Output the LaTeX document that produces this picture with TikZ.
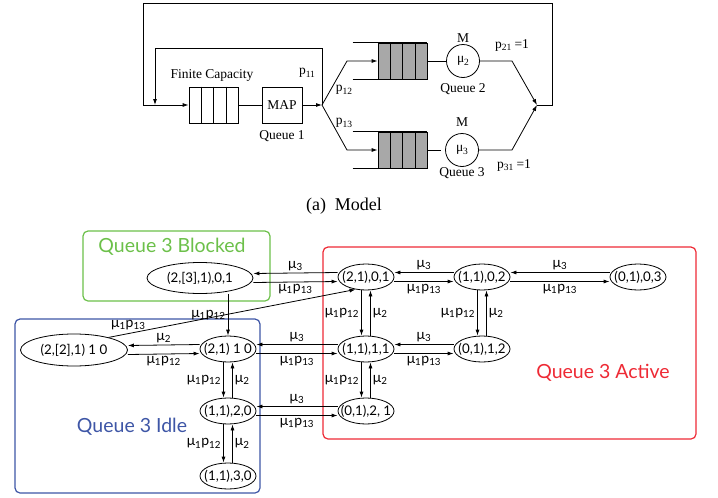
\documentclass[tikz,border=0pt]{standalone}
\usepackage{fontspec}
\setmainfont{Liberation Serif}
\newfontfamily\lbl{Lato}
\usetikzlibrary{arrows.meta,shapes.geometric,calc}
\definecolor{grpgreen}{HTML}{6CC04A}
\definecolor{grpblue}{HTML}{3E56A6}
\definecolor{grpred}{HTML}{EE2A35}
\definecolor{qgray}{HTML}{A8A8A8}
\newcommand\ssub[1]{\raisebox{-0.45ex}{\fontsize{9.5}{10}\selectfont #1}}
\newcommand\mus[1]{μ\textsubscript{#1}}
\newcommand\mup[1]{μ\textsubscript{1}p\textsubscript{#1}}
\newcommand\sn[1]{\makebox[0pt]{#1}}
\tikzset{
  st/.style={ellipse,draw,inner sep=0pt,minimum width=56pt,minimum height=26pt,font=\lbl\fontsize{13.3}{15}\selectfont},
  lab/.style={font=\lbl\fontsize{14}{15}\selectfont,inner sep=0pt},
  arr/.style={-{Latex[length=6pt,width=4pt]}},
  toptxt/.style={font=\fontsize{13.5}{15}\selectfont,inner sep=0pt},
  qbox/.style={draw,rectangle,minimum width=49pt,minimum height=36pt,inner sep=0pt},
  srv/.style={draw,circle,minimum size=33pt,inner sep=0pt,font=\fontsize{13.5}{15}\selectfont},
  grp/.style={draw,rounded corners=5pt,line width=1.2pt},
  grplab/.style={font=\lbl\fontsize{19.5}{21}\selectfont,inner sep=0pt},
}
\newcommand\hpair[4]{%
  \draw[arr] ([yshift=4.5pt]#2.west) -- node[lab,midway,above=2pt]{#3} ([yshift=4.5pt]#1.east);
  \draw[arr] ([yshift=-4.5pt]#1.east) -- node[lab,midway,below=2pt]{#4} ([yshift=-4.5pt]#2.west);}
\newcommand\vpair[4]{%
  \draw[arr] ([xshift=-4.5pt]#1.south) -- node[lab,midway,left=2pt]{#3} ([xshift=-4.5pt]#2.north);
  \draw[arr] ([xshift=4.5pt]#2.north) -- node[lab,midway,right=2pt]{#4} ([xshift=4.5pt]#1.south);}
\begin{document}
\begin{tikzpicture}[x=1pt,y=-1pt,line width=0.8pt]
\useasboundingbox (0,0) rectangle (718,498);
% ---------- top model ----------
\node[qbox] (q1) at (213.5,105) {};
\foreach \f in {0.25,0.5,0.75}
  \draw ($(q1.north west)!\f!(q1.north east)$) -- ($(q1.south west)!\f!(q1.south east)$);
\node[qbox,minimum width=40pt,font=\fontsize{13.5}{15}\selectfont] (map) at (282,105) {MAP};
\coordinate (J) at (322,105);
\coordinate (M) at (537,105);
\node[qbox,fill=qgray] (q2) at (402.5,61) {};
\node[qbox,fill=qgray] (q3) at (402.5,150) {};
\foreach \q in {q2,q3}{
  \foreach \f in {0.25,0.5,0.75}
    \draw ($(\q.north west)!\f!(\q.north east)$) -- ($(\q.south west)!\f!(\q.south east)$);
  \draw ([xshift=-25pt]\q.north west) -- (\q.north east);
  \draw ([xshift=-25pt]\q.south west) -- (\q.south east);
}
\node[srv] (c2) at (463,61) {μ\ssub{2}};
\node[srv] (c3) at (462,150) {μ\ssub{3}};
\draw (q1.east) -- (map.west);
\draw[arr] (map.east) -- (J);
\draw[arr] (J) -- (347,61) -- (q2.west);
\draw[arr] (J) -- (347,150) -- (q3.west);
\draw (q2.east) -- (c2.west);
\draw (q3.east) -- ([xshift=-4pt]c3.west);
\draw[arr] (c2.east) -- (512,61) -- (M);
\draw[arr] (c3.east) -- (512,150) -- (M);
\draw[arr] (M) -- (552,105) -- (552,3) -- (143,3) -- (143,105) -- (q1.west);
\draw[arr] (J) -- (322,48) -- (155,48) -- (155,105);
\node[toptxt] (fc) at (212,75) {Finite Capacity};
\node[toptxt] (ql1) at (282,136) {Queue 1};
\node[toptxt] (p11) at (307,73) {p\ssub{11}};
\node[toptxt] (p12) at (344,90) {p\ssub{12}};
\node[toptxt] (p13) at (344,123) {p\ssub{13}};
\node[toptxt] (m2) at (463,38) {M};
\node[toptxt] (m3) at (462,122) {M};
\node[toptxt] (ql2) at (463,89) {Queue 2};
\node[toptxt] (ql3) at (462,173) {Queue 3};
\node[toptxt] (p21) at (512,45) {p\ssub{21} =1};
\node[toptxt] (p31) at (514,165) {p\ssub{31} =1};
\node[font=\fontsize{18}{20}\selectfont,inner sep=0pt] (cap) at (344,206) {(a)\ \ Model};
% ---------- groups ----------
\draw[grp,grpgreen] (83,231) rectangle (270,301);
\draw[grp,grpblue] (15,319) rectangle (260,493);
\draw[grp,grpred] (323,247) rectangle (696,439);
\node[grplab,text=grpgreen] (gB) at (172,247) {Queue 3 Blocked};
\node[grplab,text=grpblue] (gI) at (132,427) {Queue 3 Idle};
\node[grplab,text=grpred] (gA) at (603,373) {Queue 3 Active};
% ---------- states ----------
\node[st,minimum width=106pt,minimum height=31pt] (n231) at (200,278) {\sn{(2,[3],1),0,1}};
\node[st,minimum width=107pt,minimum height=32pt] (n220) at (74,350) {\sn{(2,[2],1) 1 0}};
\node[st] (n210) at (228,349) {\sn{(2,1) 1 0}};
\node[st] (n120) at (228,411) {\sn{(1,1),2,0}};
\node[st] (n130) at (228,476) {\sn{(1,1),3,0}};
\node[st] (n201) at (366,277) {\sn{(2,1),0,1}};
\node[st] (n102) at (482,277) {\sn{(1,1),0,2}};
\node[st] (n003) at (638,277) {\sn{(0,1),0,3}};
\node[st] (n111) at (366,349) {\sn{(1,1),1,1}};
\node[st] (n012) at (482,349) {\sn{(0,1),1,2}};
\node[st] (n021) at (366,411) {\sn{(0,1),2, 1}};
% ---------- transitions ----------
\hpair{n231}{n201}{\mus{3}}{\mup{13}}
\hpair{n201}{n102}{\mus{3}}{\mup{13}}
\hpair{n102}{n003}{\mus{3}}{\mup{13}}
\hpair{n220}{n210}{\mus{2}}{\mup{12}}
\hpair{n210}{n111}{\mus{3}}{\mup{13}}
\hpair{n111}{n012}{\mus{3}}{\mup{13}}
\hpair{n120}{n021}{\mus{3}}{\mup{13}}
\vpair{n201}{n111}{\mup{12}}{\mus{2}}
\vpair{n102}{n012}{\mup{12}}{\mus{2}}
\vpair{n111}{n021}{\mup{12}}{\mus{2}}
\vpair{n210}{n120}{\mup{12}}{\mus{2}}
\vpair{n120}{n130}{\mup{12}}{\mus{2}}
\draw[arr] (n231.south -| n210.north) -- node[lab,midway,left=2pt]{\mup{12}} (n210.north);
\draw[arr] (n220.20) -- node[lab,pos=0.08,above=3pt]{\mup{13}} (n201.230);
\end{tikzpicture}
\end{document}
